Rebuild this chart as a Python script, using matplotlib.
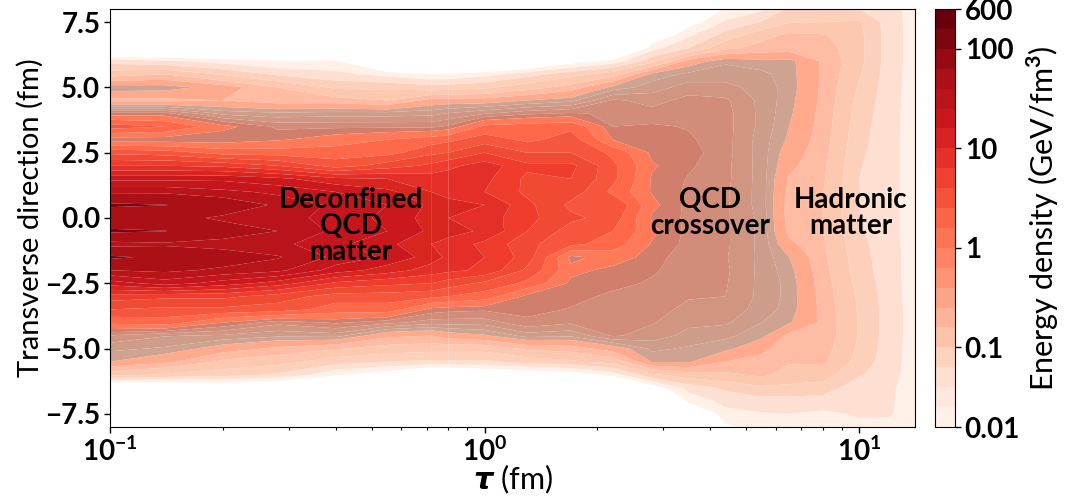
import numpy as np
import matplotlib
matplotlib.use("Agg")
import matplotlib.pyplot as plt
from matplotlib.cm import ScalarMappable
from matplotlib.colors import BoundaryNorm, ListedColormap

plt.rcParams['font.family'] = ['Lato', 'DejaVu Sans']
plt.rcParams['mathtext.fontset'] = 'custom'
plt.rcParams['mathtext.rm'] = 'Lato'
plt.rcParams['mathtext.bf'] = 'Lato:bold'
plt.rcParams['mathtext.bfit'] = 'DejaVu Sans:italic:bold'

# proper time (fm)
tau = [0.1, 0.14, 0.2, 0.28, 0.4, 0.55, 0.72, 0.8, 1.0, 1.3, 1.7, 2.2, 2.8, 3.5, 4.4, 5.5, 6.5, 8, 10, 12, 14.2]
# transverse direction (fm)
x_perp = [8, 7.5, 7, 6.5, 6, 5.5, 5, 4.5, 4, 3.5, 3, 2.5, 2, 1.5, 1, 0.5, 0,
          -0.5, -1, -1.5, -2, -2.5, -3, -3.5, -4, -4.5, -5, -5.5, -6, -6.5, -7, -7.5, -8]

# log10 of the energy density, one list per tau
log_energy = [
    [-3, -3, -3, -2.85, -1.6, -1.1, -0.5, -0.85, -0.08, 0.5, -0.1, 0.55, 1.0, 1.55, 1.95, 2.45, 2.1, 2.45, 1.9, 2.45, 2.0, 1.5, 0.9, 0.6, 0.25, -0.25, -0.45, -0.6, -1.15, -2.6, -3, -3, -3],
    [-3, -3, -3, -2.85, -1.7, -1.0, -0.52, -0.85, -0.08, 0.4, -0.1, 0.5, 1.0, 1.55, 1.95, 2.4, 2.1, 2.4, 1.95, 2.3, 2.05, 1.7, 0.85, 0.55, 0.3, -0.35, -0.5, -0.75, -1.3, -2.5, -3, -3, -3],
    [-3, -3, -3, -2.8, -1.85, -1.28, -0.7, -0.8, -0.4, 0.05, -0.1, 0.32, 0.95, 1.55, 1.85, 2.2, 1.95, 2.15, 1.9, 2.15, 1.95, 1.5, 0.85, 0.55, 0.0, -0.38, -0.7, -1.05, -1.4, -2.4, -3, -3, -3],
    [-3, -3, -3, -3, -1.98, -1.55, -1.0, -0.9, -0.45, -0.15, -0.02, 0.3, 0.8, 1.45, 1.75, 1.95, 1.9, 2.0, 1.85, 2.02, 1.85, 1.3, 0.7, 0.5, -0.2, -0.45, -0.85, -1.15, -1.55, -2.5, -3, -3, -3],
    [-3, -3, -3, -3, -1.95, -1.68, -1.3, -0.9, -0.42, -0.15, 0.1, 0.3, 0.5, 1.25, 1.6, 1.75, 1.7, 1.75, 1.65, 1.75, 1.5, 0.95, 0.5, 0.3, -0.1, -0.42, -0.98, -1.4, -1.95, -3, -3, -3, -3],
    [-3, -3, -3, -3, -2.8, -1.85, -1.3, -1.0, -0.42, -0.15, 0.2, 0.33, 0.7, 1.2, 1.45, 1.6, 1.55, 1.6, 1.45, 1.55, 1.3, 0.85, 0.5, 0.3, -0.2, -0.75, -1.1, -1.5, -2.2, -3, -3, -3, -3],
    [-3, -3, -3, -3, -3, -1.98, -1.4, -0.72, -0.4, -0.15, 0.3, 0.55, 0.85, 1.1, 1.2, 1.35, 1.3, 1.35, 1.2, 1.3, 1.1, 0.8, 0.45, -0.05, -0.3, -0.8, -1.15, -1.55, -2.6, -3, -3, -3, -3],
    [-3, -3, -3, -3, -3, -1.95, -1.38, -0.7, -0.35, -0.1, 0.35, 0.6, 0.95, 1.1, 1.1, 1.3, 1.2, 1.3, 1.1, 1.15, 1.05, 0.7, 0.4, -0.08, -0.3, -0.7, -1.15, -1.55, -2.5, -3, -3, -3, -3],
    [-3, -3, -3, -3, -2.8, -1.85, -1.3, -0.7, -0.25, 0.25, 0.5, 0.8, 1.1, 1.05, 1.0, 1.2, 1.1, 1.15, 0.95, 1.0, 0.95, 0.55, 0.3, -0.1, -0.3, -0.62, -1.15, -1.55, -2.4, -3, -3, -3, -3],
    [-3, -3, -3, -3, -2.6, -1.6, -1.1, -0.6, -0.15, 0.3, 0.35, 0.6, 0.85, 0.75, 0.75, 0.85, 0.85, 0.8, 0.65, 0.7, 0.55, 0.35, -0.05, -0.08, -0.15, -0.42, -0.95, -1.4, -2.3, -3, -3, -3, -3],
    [-3, -3, -3, -3, -2.15, -1.35, -0.9, -0.52, -0.1, 0.35, 0.5, 0.6, 0.85, 0.8, 0.7, 0.55, 0.65, 0.5, 0.45, -0.05, 0.05, -0.04, -0.08, -0.13, -0.22, -0.45, -0.9, -1.3, -2.2, -3, -3, -3, -3],
    [-3, -3, -3, -2.9, -1.9, -1.1, -0.55, -0.22, -0.15, -0.12, 0.0, 0.35, 0.45, 0.45, 0.35, 0.6, 0.5, 0.4, 0.3, 0.1, -0.05, -0.08, -0.15, -0.17, -0.2, -0.22, -0.7, -1.15, -1.9, -3, -3, -3, -3],
    [-3, -3, -2.3, -1.85, -1.33, -0.55, -0.42, -0.28, -0.2, -0.1, -0.06, -0.04, 0.02, -0.02, -0.01, 0.04, -0.02, 0.04, -0.02, -0.08, -0.1, -0.14, -0.17, -0.2, -0.23, -0.3, -0.45, -0.58, -1.3, -2.2, -3, -3, -3],
    [-2.8, -2.15, -1.8, -1.5, -0.7, -0.45, -0.3, -0.2, -0.15, -0.13, -0.1, -0.07, -0.1, -0.13, -0.15, -0.16, -0.15, -0.16, -0.16, -0.18, -0.2, -0.22, -0.23, -0.27, -0.33, -0.4, -0.5, -0.58, -1.1, -1.65, -1.93, -2.5, -3],
    [-1.95, -1.72, -1.4, -1.05, -0.5, -0.42, -0.32, -0.22, -0.2, -0.2, -0.2, -0.2, -0.21, -0.21, -0.22, -0.22, -0.22, -0.22, -0.22, -0.23, -0.22, -0.23, -0.24, -0.28, -0.34, -0.45, -0.56, -0.8, -1.05, -1.45, -1.65, -1.85, -2.05],
    [-1.8, -1.48, -1.08, -0.92, -0.55, -0.45, -0.42, -0.4, -0.4, -0.4, -0.42, -0.42, -0.42, -0.42, -0.42, -0.42, -0.4, -0.4, -0.4, -0.4, -0.4, -0.4, -0.4, -0.42, -0.48, -0.56, -0.75, -0.87, -0.95, -1.3, -1.6, -1.77, -1.9],
    [-1.45, -1.27, -0.95, -0.9, -0.55, -0.54, -0.53, -0.55, -0.57, -0.6, -0.63, -0.7, -0.75, -0.82, -0.85, -0.88, -0.88, -0.85, -0.75, -0.6, -0.55, -0.52, -0.52, -0.53, -0.58, -0.85, -0.93, -0.97, -1.12, -1.3, -1.6, -1.75, -1.9],
    [-1.42, -1.25, -0.98, -0.88, -0.83, -0.83, -0.84, -0.85, -0.87, -0.88, -0.9, -0.92, -0.95, -0.97, -0.99, -1.0, -1.0, -1.0, -0.97, -0.95, -0.92, -0.9, -0.88, -0.86, -0.85, -0.86, -0.9, -0.95, -1.15, -1.35, -1.62, -1.8, -1.93],
    [-1.5, -1.22, -1.18, -1.18, -1.18, -1.22, -1.28, -1.32, -1.36, -1.4, -1.42, -1.45, -1.48, -1.5, -1.5, -1.51, -1.5, -1.47, -1.43, -1.4, -1.38, -1.33, -1.3, -1.28, -1.27, -1.27, -1.3, -1.36, -1.47, -1.68, -1.72, -1.72, -1.82],
    [-1.65, -1.62, -1.62, -1.62, -1.62, -1.63, -1.64, -1.65, -1.66, -1.66, -1.67, -1.67, -1.67, -1.67, -1.67, -1.67, -1.67, -1.67, -1.66, -1.65, -1.65, -1.64, -1.63, -1.62, -1.62, -1.62, -1.63, -1.64, -1.66, -1.7, -1.71, -1.72, -1.85],
    [-1.88, -1.88, -1.88, -1.88, -1.88, -1.88, -1.88, -1.88, -1.88, -1.88, -1.88, -1.88, -1.88, -1.88, -1.88, -1.88, -1.88, -1.88, -1.88, -1.88, -1.88, -1.88, -1.88, -1.88, -1.88, -1.88, -1.88, -1.88, -1.88, -1.9, -1.9, -1.92, -1.98],
]

# colour bar levels (GeV/fm^3)
bar_levels = [0.01, 0.0178, 0.0316, 0.0562, 0.1, 0.158, 0.251, 0.398, 0.631, 1, 1.58, 2.51, 3.98, 6.31,
              10, 15.8, 25.1, 39.8, 63.1, 100, 245, 600]
bar_ticks = [0.01, 0.1, 1, 10, 100, 600]
bar_ticklabels = ['0.01', '0.1', '1', '10', '100', '600']

# levels of the filled map, in log10 of the energy density, the crossover part has the grey tones
map_levels = [-2, -1.75, -1.5, -1.25, -1, -0.8, -0.6, -0.48, -0.36, -0.24, -0.12, 0, 0.2, 0.4, 0.6, 0.8,
              1, 1.2, 1.4, 1.6, 1.8, 2, 2.39, 2.78]
map_colors = ['#fff0e8', '#fee0d2', '#fdd0bc', '#fdc8b0', '#fdbca3', '#ffaa8c',
              '#cea391', '#cd9d8a', '#d09682', '#d18d79', '#cf7f6c',
              '#ff7a58', '#ff6848', '#f6563c', '#f14a32', '#ef3c2c', '#e32f27', '#d8261f',
              '#cb181d', '#c4161c', '#b81419', '#aa1016', '#7a0510']

tau = np.array(tau)
x_perp = np.array(x_perp)
log_energy = np.array(log_energy).T

fig = plt.figure(figsize=(10.67, 5.03), dpi=100)
ax = fig.add_axes([110 / 1067, 76 / 503, 805 / 1067, 418 / 503])

# three time ranges drawn apart, as in the original
for i0, i1 in [(0, 7), (6, 8), (7, len(tau))]:
    ax.contourf(tau[i0:i1], x_perp, log_energy[:, i0:i1], levels=map_levels, colors=map_colors, antialiased=True)

ax.set_xscale('log')
ax.set_xlim(0.1, 14.1)
ax.set_ylim(-8, 8)
ax.set_xticks([0.1, 1, 10], [r'$\mathbf{10^{-1}}$', r'$\mathbf{10^{0}}$', r'$\mathbf{10^{1}}$'])
ax.set_yticks([-7.5, -5, -2.5, 0, 2.5, 5, 7.5], ['\u22127.5', '\u22125.0', '\u22122.5', '0.0', '2.5', '5.0', '7.5'])
ax.tick_params(axis='both', which='major', labelsize=20, length=4, width=1, pad=3)
ax.tick_params(axis='x', which='minor', length=2.5, width=0.8, labelbottom=False)
for lab in ax.get_xticklabels() + ax.get_yticklabels():
    lab.set_fontweight('bold')
ax.set_xlabel(r'$\boldsymbol{\tau}$ (fm)', fontsize=22, labelpad=-2)
ax.set_ylabel('Transverse direction (fm)', fontsize=21, labelpad=1)

ax.text(0.44, -0.3, 'Deconfined\nQCD\nmatter', fontsize=20, fontweight='bold', ha='center', va='center', linespacing=1.0)
ax.text(4.0, 0.2, 'QCD\ncrossover', fontsize=20, fontweight='bold', ha='center', va='center', linespacing=1.0)
ax.text(9.5, 0.2, 'Hadronic\nmatter', fontsize=20, fontweight='bold', ha='center', va='center', linespacing=1.0)

cax = fig.add_axes([935 / 1067, 76 / 503, 20 / 1067, 418 / 503])
bar_cmap = ListedColormap(plt.cm.Reds(np.linspace(0.03, 1.0, 21)))
sm = ScalarMappable(norm=BoundaryNorm(bar_levels, 21), cmap=bar_cmap)
cbar = fig.colorbar(sm, cax=cax, spacing='uniform', ticks=bar_ticks)
cbar.set_ticklabels(bar_ticklabels)
cbar.ax.minorticks_off()
cbar.ax.tick_params(labelsize=20, length=4, width=1, pad=3)
for lab in cbar.ax.get_yticklabels():
    lab.set_fontweight('bold')
cbar.set_label(r'Energy density (GeV/fm$^{\mathbf{3}}$)', fontsize=22, labelpad=3)

fig.savefig('out.png', dpi=100)
